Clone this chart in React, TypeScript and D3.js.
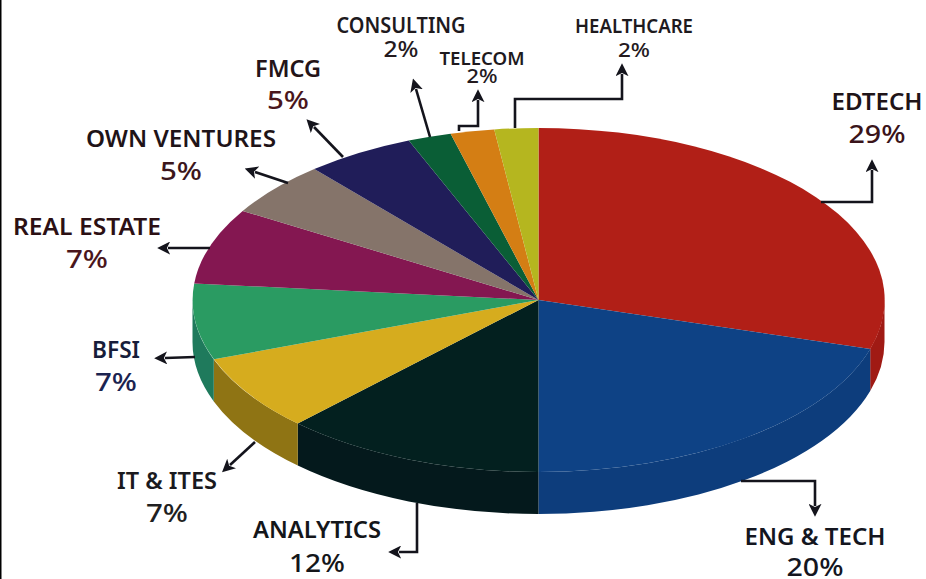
import React from "react";
import * as d3 from "d3";

const categories = ["EDTECH","ENG & TECH","ANALYTICS","IT & ITES","BFSI","REAL ESTATE","OWN VENTURES","FMCG","CONSULTING","TELECOM","HEALTHCARE"];
const shares = [29,20,12,7,7,7,5,5,2,2,2];
const topColors = ["#B11F17","#0E4285","#03201F","#D6AC1E","#2A9B62","#841751","#85746A","#201D59","#0A5E36","#D47E14","#B5B61F"];
const wallColors = ["#A01A14","#0D3D7C","#04191C","#8F7414","#1F7A5C","#841751","#85746A","#201D59","#0A5E36","#D47E14","#B5B61F"];
const nameColors = ["#1f1418","#14161f","#14161a","#1a1a1e","#171d3a","#2c1014","#1f1418","#241418","#1e1a1e","#1e1a1e","#1e1a1e"];
const pctColors = ["#3a141a","#14161f","#14161a","#1f1f22","#1b2350","#4a161c","#3c161c","#4a161c","#241a1e","#241a1e","#241a1e"];

// label layout: centre x, name baseline, percent baseline, font sizes, text widths
const labelX = [877,815,317,167,116,87,181,288,401,482,634];
const nameY = [110,545,538,489,358,235,147,77,33,65,33];
const pctY = [143,576,572,522,391,268,180,109,57,83,57];
const nameSize = [24,24,24,24,24,24,24,24,21,18,19];
const pctSize = [26,26,26,26,26,26,26,26,22,19,20];
const nameWidth = [91,141,128,100,48,148,190,66,129,85,118];
const pctWidth = [57,57,56,42,42,42,42,42,35,31,32];

// leader lines, from the pie out to the label
const leaders: [number, number][][] = [
  [[821,202],[872,202],[872,170]],
  [[741,481],[815,481],[815,506]],
  [[417,503],[417,552],[399,552]],
  [[255,442],[230,465]],
  [[195,357],[165,358]],
  [[210,248],[168,248]],
  [[288,183],[255,172]],
  [[343,157],[314,127]],
  [[430,137],[416,89]],
  [[459,131],[459,126],[478,126],[478,100]],
  [[515,128],[515,99],[622,99],[622,74]],
];

const cx = 538.5, cy = 300, rx = 346, ry = 172, depth = 42;

const pie = d3.pie<number>().sort(null).value((d) => d);
const slices = pie(shares);
const arc = d3.arc<d3.PieArcDatum<number>>().innerRadius(0).outerRadius(1);

const px = (a: number) => cx + rx * Math.sin(a);
const py = (a: number) => cy - ry * Math.cos(a);

function wallPath(a0: number, a1: number): string | null {
  const s = Math.max(a0, Math.PI / 2);
  const e = Math.min(a1, (3 * Math.PI) / 2);
  if (e <= s) return null;
  return `M${px(s)},${py(s)}A${rx},${ry} 0 0 1 ${px(e)},${py(e)}L${px(e)},${py(e) + depth}A${rx},${ry} 0 0 0 ${px(s)},${py(s) + depth}Z`;
}

const line = d3.line();

export default function App() {
  return (
    <svg width={926} height={579} viewBox="0 0 926 579" style={{ position: "absolute", left: 0, top: 0, background: "#fff" }}>
      <defs>
        <marker id="head" markerUnits="userSpaceOnUse" viewBox="0 0 12 12" refX="2" refY="6" markerWidth="13" markerHeight="13" orient="auto">
          <path d="M0,0L12,6L0,12L3,6Z" fill="#14141c" />
        </marker>
      </defs>
      <rect x={0} y={0} width={1.5} height={579} fill="#000" />
      {slices.map((s, i) => {
        const d = wallPath(s.startAngle, s.endAngle);
        return d ? <path key={i} d={d} fill={wallColors[i]} /> : null;
      })}
      {slices.map((s, i) => (
        <path
          key={i}
          d={arc(s) as string}
          transform={`translate(${cx},${cy}) scale(${rx},${ry})`}
          fill={topColors[i]}
        />
      ))}
      {leaders.map((l, i) => (
        <path key={i} d={line(l) as string} fill="none" stroke="#14141c" strokeWidth={2.6} markerEnd="url(#head)" />
      ))}
      <g fontFamily="'Noto Sans', 'Open Sans', sans-serif" textAnchor="middle">
        {categories.map((c, i) => (
          <g key={c}>
            <text x={labelX[i]} y={nameY[i]} fontSize={nameSize[i]} fontWeight={600} fill={nameColors[i]} textLength={nameWidth[i]} lengthAdjust="spacingAndGlyphs">{c}</text>
            <text x={labelX[i]} y={pctY[i]} fontSize={pctSize[i]} fontWeight={500} fill={pctColors[i]} textLength={pctWidth[i]} lengthAdjust="spacingAndGlyphs">{shares[i]}%</text>
          </g>
        ))}
      </g>
    </svg>
  );
}
